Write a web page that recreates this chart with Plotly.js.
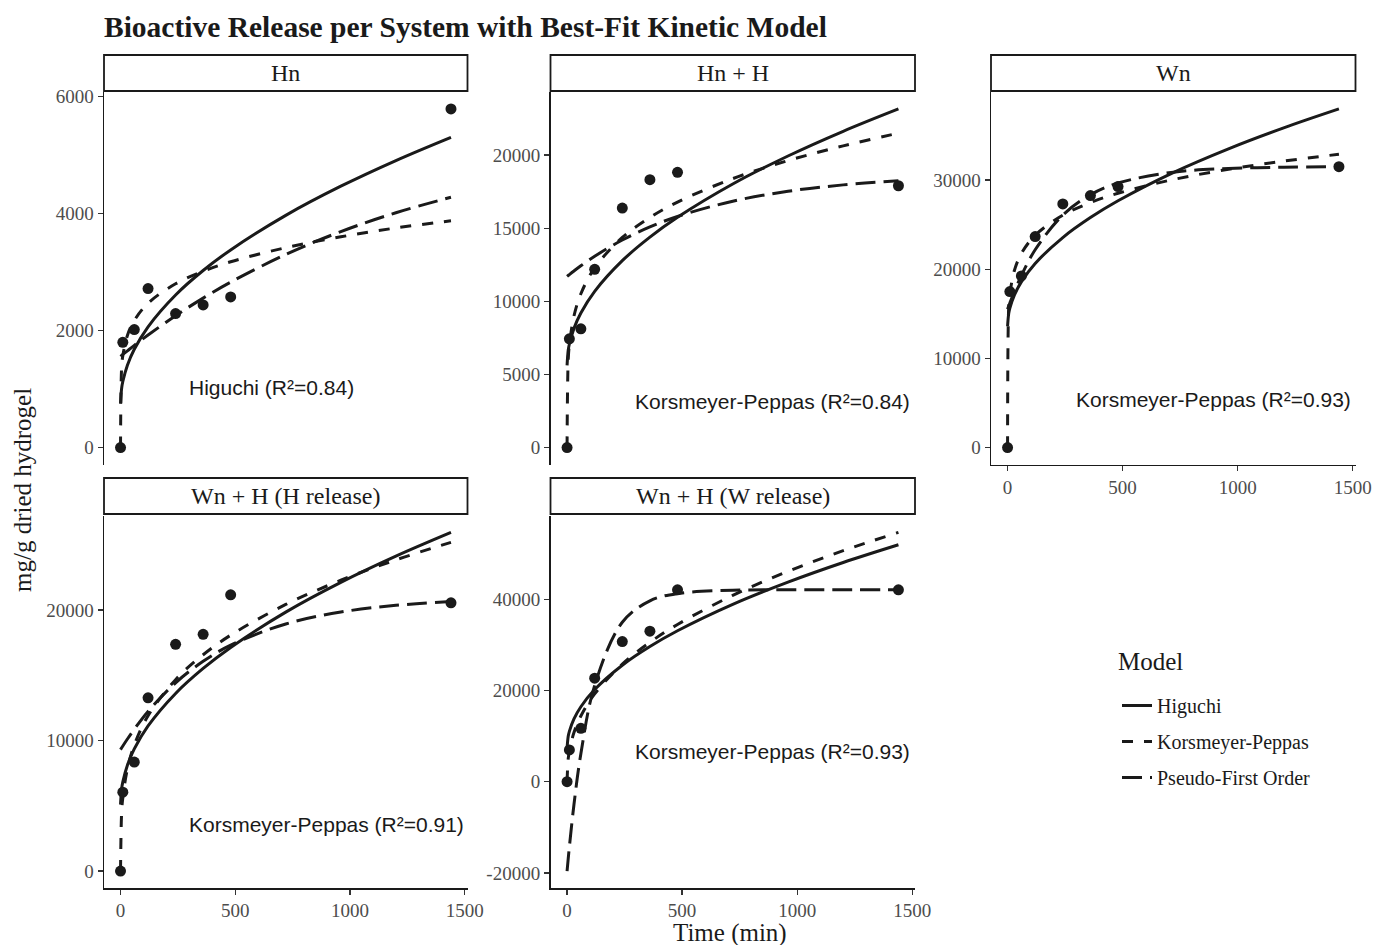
<!DOCTYPE html>
<html><head><meta charset="utf-8">
<script src="https://cdn.plot.ly/plotly-3.0.1.min.js"></script>
<style>html,body{margin:0;padding:0;background:#fff}</style>
</head><body><div id="chart" style="width:1375px;height:945px"></div>
<script>
// ---------- data ----------
const systems = ['Hn', 'Hn + H', 'Wn', 'Wn + H (H release)', 'Wn + H (W release)'];
const models = ['Higuchi', 'Korsmeyer-Peppas', 'Pseudo-First Order'];

const sampleTime = [0, 10, 60, 120, 240, 360, 480, 1440];
const obsHn    = [0, 1800, 2017, 2718, 2291, 2439, 2575, 5789];
const obsHnH   = [0, 7435, 8120, 12188, 16372, 18313, 18820, 17901];
const obsWn    = [0, 17485, 19245, 23650, 27315, 28245, 29254, 31495];
const obsWnH_H = [0, 6044, 8350, 13267, 17365, 18133, 21155, 20541];
const obsWnH_W = [0, 6947, 11700, 22669, 30713, 32980, 42048, 42048];

const curveTime = [0, 5, 10, 30, 60, 120, 240, 360, 480, 720, 960, 1200, 1440];
const higHn = [750, 1018, 1129, 1407, 1680, 2065, 2609, 3027, 3379, 3970, 4468, 4907, 5304];
const kpHn  = [0, 1383, 1570, 1917, 2173, 2468, 2800, 3013, 3176, 3417, 3603, 3754, 3877];
const pfoHn = [1560, 1576, 1592, 1654, 1747, 1924, 2255, 2555, 2828, 3301, 3692, 4014, 4280];

const higHnH = [5620, 6653, 7081, 8150, 9199, 10681, 12777, 14386, 15742, 18017, 19934, 21624, 23152];
const kpHnH  = [0, 6010, 7026, 8995, 10513, 12287, 14363, 15732, 16786, 18385, 19619, 20628, 21495];
const pfoHnH = [11700, 11764, 11827, 12073, 12427, 13079, 14189, 15083, 15800, 16844, 17522, 17960, 18245];

const higWn = [13600, 15036, 15630, 17116, 18573, 20633, 23546, 25781, 27666, 30827, 33491, 35840, 37964];
const kpWn  = [0, 15749, 17235, 19880, 21754, 23806, 26049, 27462, 28507, 30050, 31195, 32113, 32884];
const pfoWn = [15500, 15856, 16204, 17521, 19286, 22177, 26066, 28334, 29655, 30873, 31287, 31428, 31476];

const higWnH_H = [5100, 6328, 6836, 8107, 9353, 11114, 13605, 15517, 17128, 19831, 22110, 24118, 25935];
const kpWnH_H  = [0, 4557, 5618, 7826, 9648, 11892, 14659, 16569, 18069, 20419, 22272, 23831, 25176];
const pfoWnH_H = [9300, 9439, 9577, 10112, 10867, 12225, 14419, 16065, 17300, 18923, 19837, 20351, 20639];

const higWnH_W = [7300, 9930, 11019, 13741, 16409, 20183, 25518, 29613, 33065, 38855, 43737, 48038, 51927];
const kpWnH_W  = [0, 5066, 6778, 10752, 14385, 19247, 25752, 30532, 34452, 40846, 46090, 50625, 54625];
const pfoWnH_W = [-19600, -16887, -14292, -5013, 6127, 21114, 34942, 39633, 41230, 41958, 42039, 42048, 42048];

const fitLabels = ['Higuchi (R\u00b2=0.84)', 'Korsmeyer-Peppas (R\u00b2=0.84)', 'Korsmeyer-Peppas (R\u00b2=0.93)',
                   'Korsmeyer-Peppas (R\u00b2=0.91)', 'Korsmeyer-Peppas (R\u00b2=0.93)'];
const xTickVals = [0, 500, 1000, 1500];
const yTicksHn = [0, 2000, 4000, 6000];
const yTicksHnH = [0, 5000, 10000, 15000, 20000];
const yTicksWn = [0, 10000, 20000, 30000];
const yTicksWnH_H = [0, 10000, 20000];
const yTicksWnH_W = [-20000, 0, 20000, 40000];

// ---------- layout helpers ----------
const W = 1375, H = 945;
const px = v => v / W;
const py = v => 1 - v / H;
const SERIF = 'Liberation Serif, Times New Roman, serif';
const SANS = 'Liberation Sans, Arial, sans-serif';
const INK = '#1a1a1a';

const obs = [obsHn, obsHnH, obsWn, obsWnH_H, obsWnH_W];
const curves = [[higHn, kpHn, pfoHn], [higHnH, kpHnH, pfoHnH], [higWn, kpWn, pfoWn],
                [higWnH_H, kpWnH_H, pfoWnH_H], [higWnH_W, kpWnH_W, pfoWnH_W]];
const yTicks = [yTicksHn, yTicksHnH, yTicksWn, yTicksWnH_H, yTicksWnH_W];
const labelY = [1020, 3155, 5346, 3534, 6713];
const labelX = 288;

const cols = [[104, 467.5], [550.5, 915], [991, 1355.5]];
const rows = [[92, 464.5], [515.5, 888]];
const strips = [[55, 91], [478, 514]];
const panelPos = [[0, 0], [1, 0], [2, 0], [0, 1], [1, 1]]; // [col,row]
const showX = [false, false, true, true, true];
const dashes = ['solid', '11px,11px', '20px,8px'];

const traces = [];
const layout = {
  width: W, height: H,
  margin: {l: 0, r: 0, t: 0, b: 0},
  paper_bgcolor: '#fff', plot_bgcolor: '#fff',
  title: {text: '<b>Bioactive Release per System with Best-Fit Kinetic Model</b>',
          x: px(104), xanchor: 'left', y: py(27), yanchor: 'middle',
          font: {family: SERIF, size: 29.5, color: INK}},
  showlegend: true,
  legend: {x: px(1117), y: py(686), xanchor: 'left', yanchor: 'top',
           font: {family: SERIF, size: 20, color: INK}, tracegroupgap: 7,
           bgcolor: 'rgba(0,0,0,0)'},
  shapes: [], annotations: []
};

const fmt = v => String(v);

systems.forEach((name, i) => {
  const [c, r] = panelPos[i];
  const k = i + 1;
  const xa = 'xaxis' + (k === 1 ? '' : k), ya = 'yaxis' + (k === 1 ? '' : k);
  const xr = 'x' + (k === 1 ? '' : k), yr = 'y' + (k === 1 ? '' : k);
  const all = obs[i].concat(...curves[i]);
  const lo = Math.min(...all), hi = Math.max(...all), pad = (hi - lo) * 0.05;
  const tlo = Math.min(...curveTime, ...sampleTime), thi = Math.max(...curveTime, ...sampleTime);
  const tpad = (thi - tlo) * 0.05;

  layout[xa] = {
    domain: [px(cols[c][0]), px(cols[c][1])], anchor: yr,
    range: [tlo - tpad, thi + tpad], showgrid: false, zeroline: false,
    showline: showX[i], linecolor: INK, linewidth: 1.5,
    ticks: showX[i] ? 'outside' : '', ticklen: 5, tickcolor: '#333', tickwidth: 1.3,
    showticklabels: showX[i], tickmode: 'array', tickvals: xTickVals, ticktext: xTickVals.map(fmt),
    tickfont: {family: SERIF, size: 19, color: '#4d4d4d'}
  };
  layout[ya] = {
    domain: [py(rows[r][1]), py(rows[r][0])], anchor: xr,
    range: [lo - pad, hi + pad], showgrid: false, zeroline: false,
    showline: true, linecolor: INK, linewidth: 1.5,
    ticks: 'outside', ticklen: 5, tickcolor: '#333', tickwidth: 1.3,
    tickmode: 'array', tickvals: yTicks[i], ticktext: yTicks[i].map(fmt),
    tickfont: {family: SERIF, size: 19, color: '#4d4d4d'}
  };

  models.forEach((m, j) => {
    traces.push({
      type: 'scatter', mode: 'lines', x: curveTime, y: curves[i][j], xaxis: xr, yaxis: yr,
      name: m, legendgroup: m, showlegend: i === 0,
      line: {color: INK, width: 3, dash: dashes[j], shape: 'spline', smoothing: 1},
      hoverinfo: 'skip'
    });
  });
  traces.push({
    type: 'scatter', mode: 'markers', x: sampleTime, y: obs[i], xaxis: xr, yaxis: yr,
    showlegend: false, marker: {color: INK, size: 11}, name: name
  });

  const sy = strips[r];
  layout.shapes.push({type: 'rect', xref: 'paper', yref: 'paper',
    x0: px(cols[c][0]), x1: px(cols[c][1]), y0: py(sy[1]), y1: py(sy[0]),
    line: {color: INK, width: 1.8}, fillcolor: '#fff'});
  layout.annotations.push({xref: 'paper', yref: 'paper',
    x: px((cols[c][0] + cols[c][1]) / 2), y: py((sy[0] + sy[1]) / 2),
    text: name, showarrow: false, xanchor: 'center', yanchor: 'middle',
    font: {family: SERIF, size: 24, color: INK}});
  layout.annotations.push({xref: xr, yref: yr, x: labelX, y: labelY[i],
    text: fitLabels[i], showarrow: false, xanchor: 'left', yanchor: 'middle',
    font: {family: SANS, size: 21, color: INK}});
});

// legend title
layout.annotations.push({xref: 'paper', yref: 'paper', x: px(1116), y: py(661),
  text: 'Model', showarrow: false, xanchor: 'left', yanchor: 'middle',
  font: {family: SERIF, size: 25, color: INK}});
// shared axis titles
layout.annotations.push({xref: 'paper', yref: 'paper', x: px(730), y: py(933),
  text: 'Time (min)', showarrow: false, xanchor: 'center', yanchor: 'middle',
  font: {family: SERIF, size: 25, color: INK}});
layout.annotations.push({xref: 'paper', yref: 'paper', x: px(22), y: py(490),
  text: 'mg/g dried hydrogel', showarrow: false, textangle: -90, xanchor: 'center', yanchor: 'middle',
  font: {family: SERIF, size: 25, color: INK}});

Plotly.newPlot('chart', traces, layout, {displayModeBar: false, staticPlot: true});
</script></body></html>
